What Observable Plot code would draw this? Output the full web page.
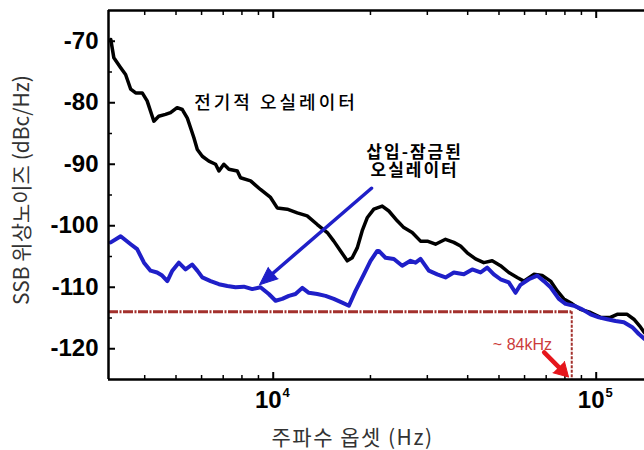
<!DOCTYPE html>
<html><head><meta charset="utf-8">
<script src="https://cdn.jsdelivr.net/npm/d3@7"></script>
<script src="https://cdn.jsdelivr.net/npm/@observablehq/plot@0.6"></script>
<style>
html,body{margin:0;padding:0;background:#fff;}
</style></head><body><div id="chart"></div>
<script>
// ---- data ----
const blackFreq = [3140,3210,3370,3490,3620,3750,3930,4070,4270,4420,4640,4810,5040,5230,5420,5550,5680,5820,6030,6320,6630,6790,7030,7290,7740,7920,8510,9130,9810,10290,11050,11870,12740,13690,14700,15400,16160,16950,17560,18200,18860,19540,20490,21750,22800,24210,25370,26930,28580,30000,31800,34150,36240,38010,39870,42300,44870,47640,50550,53620,56930,59690,64090,68040,72220,75750,79390,84290,89410,96030,103100,110700,116100,124700,130800,137200,141100];
const blackDb = [-69.7,-72.7,-74.3,-75.4,-77.8,-78.4,-78.4,-79.7,-83.0,-82.2,-81.9,-81.6,-80.8,-81.1,-82.5,-84.1,-85.7,-87.6,-88.7,-89.5,-90.0,-91.1,-90.0,-90.8,-91.1,-92.2,-92.7,-94.1,-95.4,-97.1,-97.3,-97.9,-98.4,-99.8,-101.1,-102.5,-104.1,-105.7,-105.2,-103.6,-100.8,-98.7,-97.3,-96.8,-97.6,-99.2,-100.3,-101.1,-102.5,-102.5,-103.0,-102.2,-102.7,-103.3,-104.4,-105.4,-106.0,-105.7,-106.5,-107.6,-108.4,-109.0,-107.9,-108.1,-109.0,-110.6,-111.9,-112.7,-113.6,-114.1,-114.9,-114.9,-114.4,-114.4,-115.2,-116.5,-117.4];
const blueFreq = [3140,3370,3620,3790,3980,4170,4370,4530,4700,4870,5100,5350,5610,5820,6030,6400,6790,7210,7640,8110,8610,9130,9690,10170,10660,11180,11720,12300,12890,13690,14520,15400,16350,17150,17980,19080,20010,20990,21230,22270,23630,25080,26610,27580,28580,30320,32190,34150,36240,38910,41320,43830,45970,48190,50550,53620,56260,58290,61840,65650,68830,72220,76620,80350,85260,90520,96030,101900,108200,114800,121800,129300,135500,141100];
const blueDb = [-102.7,-101.7,-103.0,-103.8,-106.0,-107.3,-107.6,-108.1,-109.0,-107.3,-106.0,-107.1,-106.3,-107.3,-108.4,-109.0,-109.5,-109.8,-110.0,-109.9,-110.3,-110.0,-111.1,-112.2,-111.9,-111.4,-111.1,-110.1,-110.9,-111.1,-111.4,-111.9,-112.5,-113.0,-110.6,-107.9,-105.7,-104.1,-104.1,-105.2,-105.4,-106.5,-105.7,-106.0,-105.4,-107.3,-107.9,-108.4,-107.6,-107.9,-107.1,-107.6,-106.8,-107.9,-108.7,-109.2,-110.9,-109.6,-108.7,-108.1,-109.0,-110.0,-111.9,-112.7,-113.0,-113.6,-114.4,-114.9,-115.2,-115.5,-115.7,-116.5,-117.6,-118.4];

const xDomain = [3090, 141100];
const yDomain = [-125, -65];
const yMajor = [-70, -80, -90, -100, -110, -120];
const yMinor = [-75, -85, -95, -105, -115];
const xMajor = [1e4, 1e5];
const xMajorBase = ["10", "10"];
const xMajorExp = ["4", "5"];
const xMinor = [4000,5000,6000,7000,8000,9000,20000,30000,40000,50000,60000,70000,80000,90000];

const xTitle = "주파수 옵셋 (Hz)";
const yTitle = "SSB 위상노이즈 (dBc/Hz)";
const labelElectric = "전기적 오실레이터";
const labelLocked = "삽입-잠금된\n오실레이터";
const labelCorner = "~ 84kHz";

// annotation anchors (data units)
const electricPos = {f: 10200, db: -80.1};
const lockedPos = {f: 27400, db: -89.5};
const blueArrow = {f1: 20150, db1: -93.9, f2: 9070, db2: -109.6};
const cornerLevel = -114;
const cornerFreq = 84000;
const cornerTextPos = {f: 59100, db: -119.4};
const redArrow = {f1: 69000, db1: -120.6, f2: 82100, db2: -124.6};

const black = blackFreq.map((f, i) => ({f, db: blackDb[i]}));
const blue = blueFreq.map((f, i) => ({f, db: blueDb[i]}));
const KR = "'Noto Sans CJK KR', 'Noto Sans', sans-serif";
const NUM = "'Liberation Sans', Arial, sans-serif";
const BLUE = "#1f1fc8";
const RED = "#e5161c";

// screen direction of each arrow (same geometry as the plot frame) for the filled heads
const W = 644, H = 450, ML = 108, MR = 0, MT = 10, MB = 71;
const sx = d3.scaleLog().domain(xDomain).range([ML, W - MR]);
const sy = d3.scaleLinear().domain(yDomain).range([H - MB, MT]);
const angleOf = a => Math.atan2(sx(a.f2) - sx(a.f1), -(sy(a.db2) - sy(a.db1))) * 180 / Math.PI;

const plot = Plot.plot({
  width: W, height: H,
  marginLeft: ML, marginRight: MR, marginTop: MT, marginBottom: MB,
  x: {type: "log", domain: xDomain},
  y: {domain: yDomain},
  style: {background: "white", fontFamily: NUM, color: "black", overflow: "hidden"},
  marks: [
    // y axis labels & inward ticks
    Plot.axisY(yMajor, {anchor: "left", tickSize: 0, tickPadding: 10, tickFormat: d => String(d), fontSize: 24, fontWeight: "bold", fontFamily: NUM, label: null}),
    Plot.axisY(yMajor, {anchor: "left", tickSize: -7, text: null, strokeWidth: 2, label: null}),
    Plot.axisY(yMinor, {anchor: "left", tickSize: -4, text: null, strokeWidth: 1.5, label: null}),
    Plot.axisX(xMajor, {anchor: "bottom", tickSize: -7, text: null, strokeWidth: 2, label: null}),
    Plot.axisX(xMinor, {anchor: "bottom", tickSize: -4, text: null, strokeWidth: 1.5, label: null}),
    Plot.axisX(xMajor, {anchor: "top", tickSize: -7, text: null, strokeWidth: 2, label: null}),
    Plot.axisX(xMinor, {anchor: "top", tickSize: -4, text: null, strokeWidth: 1.5, label: null}),
    // x tick labels 10^n
    Plot.text(xMajor, {x: d => d, text: (d, i) => xMajorBase[i], frameAnchor: "bottom", dy: 28, dx: -5, fontSize: 24, fontWeight: "bold", fontFamily: NUM}),
    Plot.text(xMajor, {x: d => d, text: (d, i) => xMajorExp[i], frameAnchor: "bottom", dy: 17, dx: 13, fontSize: 13, fontWeight: "bold", fontFamily: NUM}),
    // titles
    Plot.text([xTitle], {text: d => d, frameAnchor: "bottom", dy: 65, dx: -24, fontSize: 21, fontFamily: KR, fill: "#333"}),
    Plot.text([yTitle], {text: d => d, frameAnchor: "left", textAnchor: "middle", lineAnchor: "middle", dx: -86, dy: -5, rotate: -90, fontSize: 21, fontFamily: KR, fill: "#333"}),
    // curves
    Plot.line(black, {x: "f", y: "db", stroke: "black", strokeWidth: 3.5, strokeLinejoin: "round"}),
    Plot.line(blue, {x: "f", y: "db", stroke: BLUE, strokeWidth: 4, strokeLinejoin: "round"}),
    // red corner markers
    Plot.ruleY([cornerLevel], {x1: xDomain[0], x2: cornerFreq, stroke: "#a3302c", strokeWidth: 3, strokeDasharray: "10,1.5,2,1.5"}),
    Plot.ruleX([cornerFreq], {y1: cornerLevel, y2: yDomain[0], stroke: "#a3302c", strokeWidth: 2, strokeDasharray: "3,1.5"}),
    Plot.arrow([redArrow], {x1: "f1", y1: "db1", x2: "f2", y2: "db2", stroke: RED, strokeWidth: 4.5, headLength: 0, insetEnd: 9}),
    Plot.vector([redArrow], {x: "f2", y: "db2", anchor: "end", length: 14, r: 8, rotate: angleOf(redArrow), shape: "spike", fill: RED, stroke: RED, strokeWidth: 1}),
    Plot.text([labelCorner], {text: d => d, x: cornerTextPos.f, y: cornerTextPos.db, fontSize: 16, fill: "#cc3b3b", fontFamily: NUM}),
    // blue arrow and labels
    Plot.arrow([blueArrow], {x1: "f1", y1: "db1", x2: "f2", y2: "db2", stroke: BLUE, strokeWidth: 3.5, headLength: 0, insetEnd: 12}),
    Plot.vector([blueArrow], {x: "f2", y: "db2", anchor: "end", length: 18, r: 7.5, rotate: angleOf(blueArrow), shape: "spike", fill: BLUE, stroke: BLUE, strokeWidth: 1}),
    Plot.text([labelElectric], {text: d => d, x: electricPos.f, y: electricPos.db, fontSize: 18, fontFamily: KR, fill: "black", fontWeight: 500}),
    Plot.text([labelLocked], {text: d => d, x: lockedPos.f, y: lockedPos.db, fontSize: 17, lineHeight: 1.08, fontFamily: KR, fill: "black", fontWeight: "bold"}),
    // frame (left, top, bottom)
    Plot.ruleX([xDomain[0]], {stroke: "black", strokeWidth: 2.5}),
    Plot.ruleY([yDomain[1]], {stroke: "black", strokeWidth: 2.5}),
    Plot.ruleY([yDomain[0]], {stroke: "black", strokeWidth: 2.5})
  ]
});
document.getElementById("chart").appendChild(plot);
// letter spacing for the annotation labels and x title
d3.select(plot).selectAll("text").filter(function(){ return this.textContent === labelElectric; }).attr("letter-spacing", "3px");
d3.select(plot).selectAll("text").filter(function(){ return this.textContent === xTitle; }).attr("letter-spacing", "1.5px");
d3.select(plot).selectAll("text").filter(function(){ return this.textContent === labelLocked.replace("\n", ""); }).attr("letter-spacing", "2px");
</script>
</body></html>
